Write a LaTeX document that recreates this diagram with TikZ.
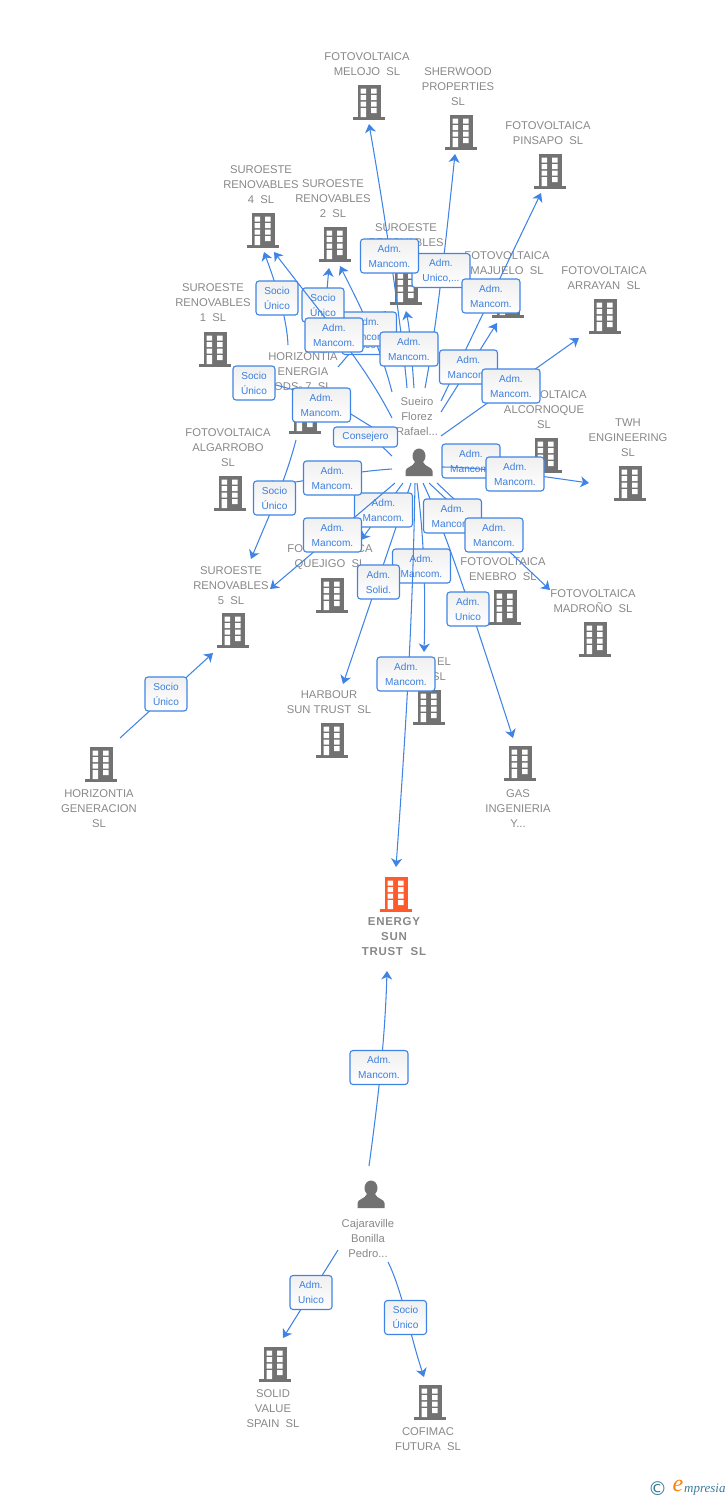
\documentclass[tikz,border=0pt]{standalone}
\usepackage{fontspec}
\setmainfont{Liberation Sans}
\newfontfamily\logofont{Liberation Serif}
\newfontfamily\symfont{DejaVu Sans}
\newfontfamily\widebold[LetterSpace=6]{Liberation Sans}
\usetikzlibrary{arrows.meta}
\definecolor{linkblue}{HTML}{3F84E5}
\definecolor{boxtext}{HTML}{3C7FDE}
\definecolor{labelgray}{HTML}{888888}
\definecolor{icongray}{HTML}{727272}
\definecolor{iconorange}{HTML}{FF5A2B}
\definecolor{logoteal}{HTML}{3A7B9C}
\tikzset{
  conn/.style={draw=linkblue,line width=1.05pt,-{Stealth[length=8.5pt,width=11pt,inset=2.5pt]}},
  lblbox/.style={draw=linkblue,line width=1.1pt,rounded corners=3pt,top color=black!6,bottom color=white,
    text=boxtext,inner sep=0pt,align=center,font=\fontsize{10.1}{15}\selectfont},
  wide/.style={lblbox,minimum width=58pt,minimum height=34pt},
  narrow/.style={lblbox,minimum width=42pt,minimum height=34pt},
  flat/.style={lblbox,minimum width=64pt,minimum height=20pt},
  lab/.style={text=labelgray,align=center,inner sep=0pt,yshift=-1pt,font=\fontsize{11.25}{15}\selectfont},
  labb/.style={lab,font=\widebold\fontsize{11.5}{15}\selectfont\bfseries}
}
\newcommand{\Bldg}[4]{%
  \coordinate (#1) at (#2,#3);
  \begin{scope}[shift={(#1)}]
    \fill[#4] (-11.5,0) rectangle (11.5,32);
    \fill[#4] (-16,31.5) rectangle (16,34.5);
    \fill[white] (-8.5,3.5) rectangle (-3,8.5) (2,3.5) rectangle (7.5,8.5)
      (-8.5,10) rectangle (-3,15) (2,10) rectangle (7.5,15)
      (-8.5,16.5) rectangle (-3,21.5) (2,16.5) rectangle (7.5,21.5)
      (-8.5,23) rectangle (-3,32) (2,23) rectangle (7.5,28);
  \end{scope}}
\newcommand{\Person}[3]{%
  \coordinate (#1) at (#2,#3);
  \begin{scope}[shift={(#1)}]
    \fill[icongray] (0,7) ellipse [x radius=6.5,y radius=7.5];
    \fill[icongray] (-13.5,27) -- (-13.5,22) .. controls (-13.5,18) and (-6,18) .. (-4,13)
      -- (4,13) .. controls (6,18) and (13.5,18) .. (13.5,22) -- (13.5,27) -- cycle;
  \end{scope}}
\begin{document}
\begin{tikzpicture}[x=1pt,y=-1pt]
\useasboundingbox (0,0) rectangle (728,1500);
% buildings
\Bldg{bMelojo}{369}{85}{icongray}
\Bldg{bSherwood}{461}{115}{icongray}
\Bldg{bPinsapo}{550}{154}{icongray}
\Bldg{bSur4}{263}{213}{icongray}
\Bldg{bSur2}{335}{227}{icongray}
\Bldg{bSur3}{406}{270}{icongray}
\Bldg{bMajuelo}{508}{283}{icongray}
\Bldg{bArrayan}{605}{299}{icongray}
\Bldg{bSur1}{215}{332}{icongray}
\Bldg{bHorEn}{305}{399}{icongray}
\Bldg{bAlcor}{546}{438}{icongray}
\Bldg{bTwh}{630}{466}{icongray}
\Bldg{bAlgar}{230}{476}{icongray}
\Bldg{bQuej}{332}{578}{icongray}
\Bldg{bEnebro}{505}{590}{icongray}
\Bldg{bSur5}{233}{613}{icongray}
\Bldg{bMadr}{595}{622}{icongray}
\Bldg{bEl}{429}{690}{icongray}
\Bldg{bHarb}{332}{723}{icongray}
\Bldg{bGas}{520}{746}{icongray}
\Bldg{bHorGen}{101}{747}{icongray}
\Bldg{bEnergy}{396}{877}{iconorange}
\Bldg{bSolid}{275}{1347}{icongray}
\Bldg{bCofi}{430}{1385}{icongray}
\Person{pSueiro}{419}{449}
\Person{pCaja}{371}{1181}
% labels
\node[lab] (tMelojo) at (367,63.5) {FOTOVOLTAICA\\MELOJO\ \ SL};
\node[lab] (tSherwood) at (458,86) {SHERWOOD\\PROPERTIES\\SL};
\node[lab] (tPinsapo) at (548,132.5) {FOTOVOLTAICA\\PINSAPO\ \ SL};
\node[lab] (tSur4) at (261,184) {SUROESTE\\RENOVABLES\\4\ \ SL};
\node[lab] (tSur2) at (333,198) {SUROESTE\\RENOVABLES\\2\ \ SL};
\node[lab] (tSur3) at (406,234.5) {SUROESTE\\RENOVABLES};
\node[lab] (tMajuelo) at (507,262.5) {FOTOVOLTAICA\\MAJUELO\ \ SL};
\node[lab] (tArrayan) at (604,277.5) {FOTOVOLTAICA\\ARRAYAN\ \ SL};
\node[lab] (tSur1) at (213,302) {SUROESTE\\RENOVABLES\\1\ \ SL};
\node[lab] (tHorEn) at (303,371) {HORIZONTIA\\ENERGIA\\ODS- 7\ \ SL};
\node[lab] (tSueiro) at (417,415) {Sueiro\\Florez\\Rafael...};
\node[lab] (tAlcor) at (544,409) {FOTOVOLTAICA\\ALCORNOQUE\\SL};
\node[lab] (tTwh) at (628,437) {TWH\\ENGINEERING\\SL};
\node[lab] (tAlgar) at (228,447) {FOTOVOLTAICA\\ALGARROBO\\SL};
\node[lab] (tQuej) at (330,556.5) {FOTOVOLTAICA\\QUEJIGO\ \ SL};
\node[lab] (tEnebro) at (503,568.5) {FOTOVOLTAICA\\ENEBRO\ \ SL};
\node[lab] (tSur5) at (231,585) {SUROESTE\\RENOVABLES\\5\ \ SL};
\node[lab] (tMadr) at (593,600.5) {FOTOVOLTAICA\\MADROÑO\ \ SL};
\node[lab,anchor=east] (tEl1) at (451,661) {EL};
\node[lab,anchor=east] (tEl2) at (446,676) {SL};
\node[lab] (tHarb) at (329,701.5) {HARBOUR\\SUN TRUST\ \ SL};
\node[lab] (tHorGen) at (99,808) {HORIZONTIA\\GENERACION\\SL};
\node[lab] (tGas) at (518,808) {GAS\\INGENIERIA\\Y...};
\node[labb] (tEnergy) at (394,936) {ENERGY\\SUN\\TRUST\ \ SL};
\node[lab] (tCaja) at (368,1237) {Cajaraville\\Bonilla\\Pedro...};
\node[lab] (tSolid) at (273,1408) {SOLID\\VALUE\\SPAIN\ \ SL};
\node[lab] (tCofi) at (428,1438.5) {COFIMAC\\FUTURA\ \ SL};
% free ends of connectors
\coordinate (sSocioA) at (338,367); \coordinate (eSocioA) at (386,311);
\coordinate (sMelojo) at (407,388); \coordinate (eMelojo) at (369,124);
\coordinate (sSherw) at (425,388); \coordinate (eSherw) at (455,154);
\coordinate (sPins) at (441,401); \coordinate (ePins) at (541,193);
\coordinate (sMaj) at (441,412); \coordinate (eMaj) at (497,323);
\coordinate (sArr) at (441,436); \coordinate (eArr) at (579,338);
\coordinate (sS2a) at (392,392); \coordinate (eS2a) at (340,266);
\coordinate (sS2b) at (322,340); \coordinate (eS2b) at (329,268);
\coordinate (sS3) at (414,388); \coordinate (eS3) at (406,311);
\coordinate (sS4a) at (288,345); \coordinate (eS4a) at (264,252);
\coordinate (sS4b) at (392,418); \coordinate (eS4b) at (274,252);
\coordinate (sS1) at (305,393); \coordinate (eS1) at (240,375);
\coordinate (sHorA) at (388,437); \coordinate (eHorA) at (325,398);
\coordinate (sHorB) at (392,456); \coordinate (eHorB) at (365,430);
\coordinate (sAlcor) at (445,460); \coordinate (eAlcor) at (525,468);
\coordinate (sTwh) at (442,467); \coordinate (eTwh) at (589,483);
\coordinate (sAlg) at (392,469); \coordinate (eAlg) at (265,487);
\coordinate (sS5a) at (296,440); \coordinate (eS5a) at (251,559);
\coordinate (sS5b) at (395,483); \coordinate (eS5b) at (270,589);
\coordinate (sQuej) at (403,483); \coordinate (eQuej) at (361,540);
\coordinate (sHarb) at (411,483); \coordinate (eHarb) at (343,684);
\coordinate (sEn) at (415,483); \coordinate (eEn) at (396,867);
\coordinate (sEl) at (417,483); \coordinate (eEl) at (424,652);
\coordinate (sGas) at (423,483); \coordinate (eGas) at (513,738);
\coordinate (sEneb) at (429,483); \coordinate (eEneb) at (490,540);
\coordinate (sMadr) at (437,483); \coordinate (eMadr) at (550,590);
\coordinate (sGen) at (120,738); \coordinate (eGen) at (213,653);
\coordinate (sCE) at (369,1166); \coordinate (eCE) at (387,971);
\coordinate (sCS) at (338,1250); \coordinate (eCS) at (283,1338);
\coordinate (sCC) at (388,1262); \coordinate (eCC) at (424,1377);
% connectors and their labels, in stacking order
\draw[conn] (sSocioA) -- (eSocioA);
\node[narrow] (lSocioA) at (363,337.5) {Socio\\Único};
\draw[conn] (sS2a) .. controls (380,345) and (362,310) .. (eS2a);
\node[wide] (lS2a) at (367.5,329) {Adm.\\Mancom.};
\draw[conn] (sS2b) .. controls (325,320) and (327,288) .. (eS2b);
\node[narrow] (lS2b) at (323,305) {Socio\\Único};
\draw[conn] (sS4b) .. controls (365,365) and (330,325) .. (eS4b);
\node[wide] (lS4b) at (334,335) {Adm.\\Mancom.};
\draw[conn] (sS3) .. controls (412,360) and (410,330) .. (eS3);
\draw[conn] (sMelojo) .. controls (402,330) and (385,215) .. (eMelojo);
\draw[conn] (sSherw) .. controls (436,330) and (445,250) .. (eSherw);
\node[wide] (lS3) at (409,349) {Adm.\\Mancom.};
\node[wide] (lSherw) at (441,270.5) {Adm.\\Unico,...};
\node[wide] (lMelojo) at (389.5,256) {Adm.\\Mancom.};
\draw[conn] (sMaj) -- (eMaj);
\draw[conn] (sPins) -- (ePins);
\node[wide] (lPins) at (491,296) {Adm.\\Mancom.};
\node[wide] (lMaj) at (468.5,367) {Adm.\\Mancom.};
\draw[conn] (sArr) -- (eArr);
\node[wide] (lArr) at (511,386) {Adm.\\Mancom.};
\draw[conn] (sS4a) .. controls (287,320) and (278,290) .. (eS4a);
\node[narrow] (lS4a) at (277,298) {Socio\\Único};
\draw[conn] (sS1) -- (eS1);
\node[narrow] (lS1) at (254,383) {Socio\\Único};
\draw[conn] (sHorA) -- (eHorA);
\node[wide] (lHorA) at (321.5,405) {Adm.\\Mancom.};
\draw[conn] (sHorB) -- (eHorB);
\node[flat] (lHorB) at (365.5,437) {Consejero};
\draw[conn] (sAlcor) -- (eAlcor);
\node[wide] (lAlcor) at (471,461) {Adm.\\Mancom.};
\draw[conn] (sTwh) .. controls (480,467) and (540,476) .. (eTwh);
\node[wide] (lTwh) at (515,474) {Adm.\\Mancom.};
\draw[conn] (sAlg) .. controls (360,471) and (320,478) .. (eAlg);
\draw[conn] (sS5a) .. controls (285,482) and (270,513) .. (eS5a);
\node[narrow] (lS5a) at (274.5,498) {Socio\\Único};
\draw[conn] (sHarb) -- (eHarb);
\draw[conn] (sQuej) -- (eQuej);
\node[wide] (lQuej) at (383.5,510) {Adm.\\Mancom.};
\node[wide] (lAlg) at (332.5,478) {Adm.\\Mancom.};
\draw[conn] (sS5b) -- (eS5b);
\node[wide] (lS5b) at (332.5,535) {Adm.\\Mancom.};
\draw[conn] (sEl) .. controls (423,530) and (426,580) .. (eEl);
\node[wide] (lEl) at (421.5,566) {Adm.\\Mancom.};
\draw[conn] (sEn) .. controls (413,600) and (408,700) .. (eEn);
\node[narrow] (lHarb) at (378.5,582) {Adm.\\Solid.};
\node[wide] (lEn) at (406,674) {Adm.\\Mancom.};
\draw[conn] (sMadr) -- (eMadr);
\draw[conn] (sEneb) -- (eEneb);
\draw[conn] (sGas) .. controls (445,530) and (470,605) .. (eGas);
\node[wide] (lEneb) at (452.5,516) {Adm.\\Mancom.};
\node[wide] (lMadr) at (494,535) {Adm.\\Mancom.};
\node[narrow] (lGas) at (468,609) {Adm.\\Unico};
\draw[conn] (sGen) -- (eGen);
\node[narrow] (lGen) at (166,694) {Socio\\Único};
\draw[conn] (sCE) .. controls (378,1100) and (385,1040) .. (eCE);
\node[wide] (lCE) at (379,1067.5) {Adm.\\Mancom.};
\draw[conn] (sCS) -- (eCS);
\node[narrow] (lCS) at (311,1292.5) {Adm.\\Unico};
\draw[conn] (sCC) .. controls (402,1290) and (410,1335) .. (eCC);
\node[narrow] (lCC) at (405.5,1317.5) {Socio\\Único};
% footer mark
\node[text=logoteal,inner sep=0pt,font=\symfont\fontsize{19}{19}\selectfont] (logoC) at (657.5,1489) {©};
\node[text=orange,inner sep=0pt,font=\logofont\itshape\fontsize{24}{24}\selectfont] (logoE) at (678,1486) {e};
\node[text=logoteal,inner sep=0pt,anchor=west,font=\logofont\itshape\fontsize{13}{13}\selectfont] (logoM) at (684,1490) {mpresia};
\end{tikzpicture}
\end{document}
